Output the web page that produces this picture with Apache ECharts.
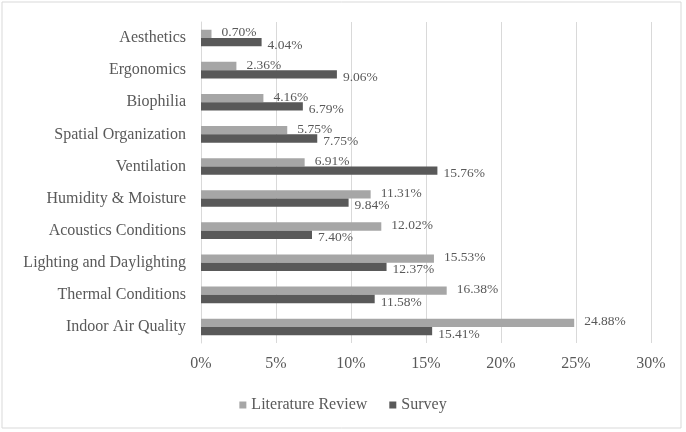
<!DOCTYPE html>
<html>
<head>
<meta charset="utf-8">
<script src="https://cdn.jsdelivr.net/npm/echarts@6/dist/echarts.min.js"></script>
<style>
html,body{margin:0;padding:0;background:#fff;}
#chart{width:686px;height:432px;}
</style>
</head>
<body>
<div id="chart"></div>
<script>
const categories = ['Aesthetics','Ergonomics','Biophilia','Spatial Organization','Ventilation','Humidity & Moisture','Acoustics Conditions','Lighting and Daylighting','Thermal Conditions','Indoor Air Quality'];
const literatureReview = [0.70, 2.36, 4.16, 5.75, 6.91, 11.31, 12.02, 15.53, 16.38, 24.88];
const survey = [4.04, 9.06, 6.79, 7.75, 15.76, 9.84, 7.40, 12.37, 11.58, 15.41];
const seriesNames = ['Literature Review', 'Survey'];
const xTicks = [0, 5, 10, 15, 20, 25, 30];

const font = 'Liberation Serif';
const chart = echarts.init(document.getElementById('chart'), null, {renderer: 'canvas'});
chart.setOption({
  animation: false,
  backgroundColor: '#fff',
  textStyle: {fontFamily: font},
  graphic: [{
    type: 'rect', shape: {x: 2, y: 2, width: 679, height: 426},
    style: {fill: 'none', stroke: '#d9d9d9', lineWidth: 1}, silent: true, z: -1
  }],
  grid: {left: 201, right: 35, top: 22, bottom: 89},
  legend: {
    data: seriesNames,
    bottom: 14,
    left: 'center',
    icon: 'rect',
    itemWidth: 7, itemHeight: 7, itemGap: 22,
    textStyle: {fontFamily: font, fontSize: 16, color: '#595959'}
  },
  xAxis: {
    type: 'value', min: xTicks[0], max: xTicks[xTicks.length-1], interval: 5,
    axisLine: {show: false}, axisTick: {show: false},
    splitLine: {lineStyle: {color: '#d9d9d9', width: 1}},
    axisLabel: {formatter: v => v + '%', fontFamily: font, fontSize: 16, color: '#595959', margin: 13}
  },
  yAxis: {
    type: 'category', data: categories, inverse: true,
    axisLine: {show: true, lineStyle: {color: '#d9d9d9'}}, axisTick: {show: false},
    axisLabel: {fontFamily: font, fontSize: 16, color: '#595959', margin: 15}
  },
  series: [
    {
      name: seriesNames[0], type: 'bar', data: literatureReview,
      barWidth: 8.3, barGap: '0%',
      itemStyle: {color: '#a6a6a6'},
      label: {show: true, position: 'right', distance: 10, offset: [0, -1],
        formatter: p => p.value.toFixed(2) + '%', fontFamily: font, fontSize: 13.5, color: '#595959'}
    },
    {
      name: seriesNames[1], type: 'bar', data: survey,
      barWidth: 8.3, barGap: '0%',
      itemStyle: {color: '#595959'},
      label: {show: true, position: 'right', distance: 6, offset: [0, 3],
        formatter: p => p.value.toFixed(2) + '%', fontFamily: font, fontSize: 13.5, color: '#595959'}
    }
  ]
});
</script>
</body>
</html>
